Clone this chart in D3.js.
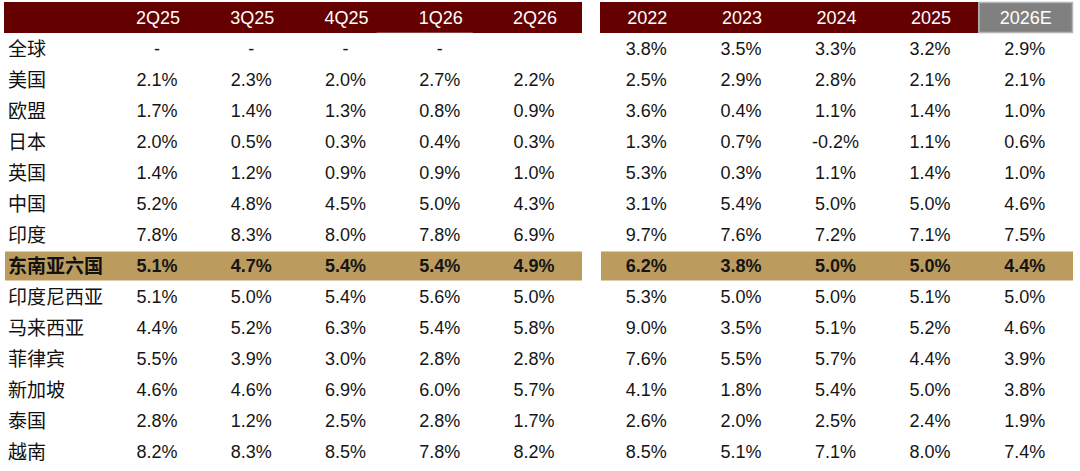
<!DOCTYPE html>
<html><head><meta charset="utf-8">
<script src="https://cdn.jsdelivr.net/npm/d3@7/dist/d3.min.js"></script>
<style>
html,body{margin:0;padding:0;background:#fff;}
svg{display:block;}
</style></head>
<body>
<svg id="chart" width="1080" height="471"></svg>
<script>
const quarters = ["2Q25","3Q25","4Q25","1Q26","2Q26"];
const years = ["2022","2023","2024","2025","2026E"];
const regions = ["全球","美国","欧盟","日本","英国","中国","印度","东南亚六国","印度尼西亚","马来西亚","菲律宾","新加坡","泰国","越南"];
const highlightRegion = "东南亚六国";
const estimateYear = "2026E";
// quarterly growth (%); "-" = shown as dash, null = blank
const quarterValues = [
  ["-","-","-","-",null],
  [2.1,2.3,2.0,2.7,2.2],
  [1.7,1.4,1.3,0.8,0.9],
  [2.0,0.5,0.3,0.4,0.3],
  [1.4,1.2,0.9,0.9,1.0],
  [5.2,4.8,4.5,5.0,4.3],
  [7.8,8.3,8.0,7.8,6.9],
  [5.1,4.7,5.4,5.4,4.9],
  [5.1,5.0,5.4,5.6,5.0],
  [4.4,5.2,6.3,5.4,5.8],
  [5.5,3.9,3.0,2.8,2.8],
  [4.6,4.6,6.9,6.0,5.7],
  [2.8,1.2,2.5,2.8,1.7],
  [8.2,8.3,8.5,7.8,8.2]
];
// annual growth (%)
const yearValues = [
  [3.8,3.5,3.3,3.2,2.9],
  [2.5,2.9,2.8,2.1,2.1],
  [3.6,0.4,1.1,1.4,1.0],
  [1.3,0.7,-0.2,1.1,0.6],
  [5.3,0.3,1.1,1.4,1.0],
  [3.1,5.4,5.0,5.0,4.6],
  [9.7,7.6,7.2,7.1,7.5],
  [6.2,3.8,5.0,5.0,4.4],
  [5.3,5.0,5.0,5.1,5.0],
  [9.0,3.5,5.1,5.2,4.6],
  [7.6,5.5,5.7,4.4,3.9],
  [4.1,1.8,5.4,5.0,3.8],
  [2.6,2.0,2.5,2.4,1.9],
  [8.5,5.1,7.1,8.0,7.4]
];

const svg = d3.select("#chart");
const numFont = "'Liberation Sans', Arial, sans-serif";
const cjkFont = "'Noto Sans CJK SC', 'Liberation Sans', sans-serif";
const dark = "#640000", tan = "#BC9C5E", grey = "#808080";

const xQ = d3.scaleBand().domain(quarters).range([111, 582]);
const xY = d3.scaleBand().domain(years).range([600, 1073]);
const y = d3.scaleBand().domain(regions).range([33.5, 467.5]);
const headTop = 2, headBot = 33;

function fmt(v){ if (v === null) return ""; if (typeof v === "string") return v; return v.toFixed(1) + "%"; }

// header bands
svg.append("rect").attr("x", 4).attr("y", headTop).attr("width", 582-4).attr("height", headBot-headTop).attr("fill", dark);
svg.append("rect").attr("x", xY.range()[0]).attr("y", headTop).attr("width", xY(estimateYear)-xY.range()[0]).attr("height", headBot-headTop).attr("fill", dark);
svg.append("rect").attr("x", xY(estimateYear)+0.5).attr("y", headTop+0.5).attr("width", xY.bandwidth()-1).attr("height", headBot-headTop-1)
  .attr("fill", grey).attr("stroke", "#b4b4b4").attr("stroke-width", 1.5);

// faint cell boundary mark on header bottom
svg.append("line").attr("x1", xQ("1Q26")-17).attr("x2", xQ("1Q26")+xQ.bandwidth()-15).attr("y1", headBot-0.5).attr("y2", headBot-0.5)
  .attr("stroke", "#8c4040").attr("stroke-width", 1);

// highlight row
const hy = y(highlightRegion);
svg.append("rect").attr("x", 5).attr("y", hy+1).attr("width", 582-5).attr("height", y.bandwidth()-2).attr("fill", tan);
svg.append("rect").attr("x", 601).attr("y", hy+1).attr("width", 1073-601).attr("height", y.bandwidth()-2).attr("fill", tan);

// header labels
const hdr = svg.append("g").attr("font-family", numFont).attr("font-size", 18).attr("fill", "#fff").attr("text-anchor", "middle");
hdr.selectAll(".hq").data(quarters).join("text").attr("x", d => xQ(d)+xQ.bandwidth()/2).attr("y", (headTop+headBot)/2).attr("dy", "0.35em").text(d => d);
hdr.selectAll(".hy").data(years).join("text").attr("x", d => xY(d)+xY.bandwidth()/2).attr("y", (headTop+headBot)/2).attr("dy", "0.35em").text(d => d);

// row labels
svg.append("g").selectAll("text").data(regions).join("text")
  .attr("x", 8).attr("y", d => y(d)+y.bandwidth()/2).attr("dy", "0.36em")
  .attr("font-family", cjkFont).attr("font-size", 19)
  .attr("font-weight", d => d === highlightRegion ? "bold" : "normal")
  .attr("fill", "#111").text(d => d);

// values
const body = svg.append("g").attr("font-family", numFont).attr("font-size", 18).attr("text-anchor", "middle");
regions.forEach((r, i) => {
  const bold = r === highlightRegion ? "bold" : "normal";
  body.selectAll(null).data(quarterValues[i]).join("text")
    .attr("x", (d, j) => xQ(quarters[j]) + xQ.bandwidth()/2 - 1)
    .attr("y", y(r)+y.bandwidth()/2).attr("dy", "0.35em")
    .attr("font-weight", bold).attr("fill", "#151515").text(d => fmt(d));
  body.selectAll(null).data(yearValues[i]).join("text")
    .attr("x", (d, j) => xY(years[j]) + xY.bandwidth()/2 - 1)
    .attr("y", y(r)+y.bandwidth()/2).attr("dy", "0.35em")
    .attr("font-weight", bold).attr("fill", "#151515").text(d => fmt(d));
});
</script>
</body></html>
